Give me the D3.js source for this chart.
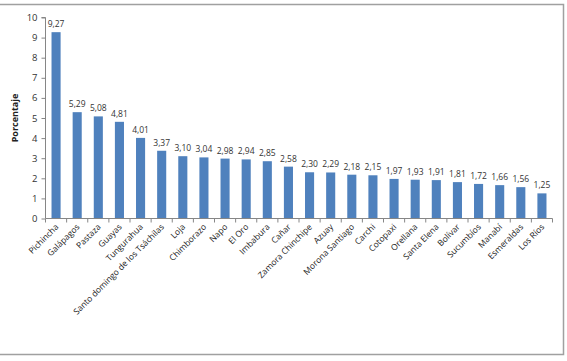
<!DOCTYPE html>
<html><head><meta charset="utf-8">
<script src="https://cdn.jsdelivr.net/npm/d3@7"></script>
<style>body{margin:0;background:#fff;}svg{display:block;}</style>
</head><body>
<svg id="c" width="567" height="361"></svg>
<script>
const categories = ["Pichincha","Galápagos","Pastaza","Guayas","Tungurahua","Santo domingo de los Tsáchilas","Loja","Chimborazo","Napo","El Oro","Imbabura","Cañar","Zamora Chinchipe","Azuay","Morona Santiago","Carchi","Cotopaxi","Orellana","Santa Elena","Bolívar","Sucumbíos","Manabí","Esmeraldas","Los Ríos"];
const values = [9.27,5.29,5.08,4.81,4.01,3.37,3.10,3.04,2.98,2.94,2.85,2.58,2.30,2.29,2.18,2.15,1.97,1.93,1.91,1.81,1.72,1.66,1.56,1.25];
const yTicks = [0,1,2,3,4,5,6,7,8,9,10];
const yTitle = "Porcentaje";

const svg = d3.select("#c");
const font = "Open Sans, Liberation Sans, sans-serif";
// frame
svg.append("path").attr("d","M0,4.5H563.5V354.5H0").attr("fill","none").attr("stroke","#a0a0a0").attr("stroke-width",1.5);

const x0 = 45.5, x1 = 552.5, yb = 218.5, yt = 17.5;
const x = d3.scaleBand().domain(categories).range([x0,x1]).paddingInner(0.57).paddingOuter(0.285);
const y = d3.scaleLinear().domain([0,10]).range([yb,yt]);

svg.selectAll("rect.bar").data(values).join("rect")
  .attr("x",(d,i)=>x(categories[i])).attr("width",x.bandwidth())
  .attr("y",d=>y(d)).attr("height",d=>yb-y(d)).attr("fill","#4f81bd");

// y axis
const ya = svg.append("g").attr("transform",`translate(${x0},0)`)
  .call(d3.axisLeft(y).tickValues(yTicks).tickSize(4).tickFormat(d3.format("d")));
ya.select(".domain").attr("stroke","#868686").attr("d",`M-4,${yt}H0V${yb}`);
ya.selectAll(".tick line").attr("stroke","#868686");
ya.selectAll("text").attr("font-family",font).attr("font-size",9.5).attr("fill","#333").attr("x",-8);

// x axis
const step = x.step();
const xa = svg.append("g");
xa.append("line").attr("x1",x0).attr("x2",x1).attr("y1",yb).attr("y2",yb).attr("stroke","#868686");
xa.selectAll("line.t").data(d3.range(categories.length+1)).join("line")
  .attr("x1",i=>x0+i*step).attr("x2",i=>x0+i*step).attr("y1",yb).attr("y2",yb+4).attr("stroke","#868686");
xa.selectAll("text").data(categories).join("text")
  .attr("transform",d=>`translate(${x(d)+x.bandwidth()/2+3},${yb+9}) rotate(-45)`)
  .attr("text-anchor","end").attr("font-family",font).attr("font-size",8.5).attr("fill","#222")
  .text(d=>d);

// value labels
svg.selectAll("text.v").data(values).join("text").attr("class","v")
  .attr("x",(d,i)=>x(categories[i])+x.bandwidth()/2).attr("y",d=>y(d)-5)
  .attr("text-anchor","middle").attr("font-family",font).attr("font-size",8.5).attr("fill","#333")
  .text(d=>d.toFixed(2).replace(".",","));

// y title
svg.append("text").attr("transform","translate(18,118) rotate(-90)").attr("text-anchor","middle")
  .attr("font-family",font).attr("font-size",9).attr("font-weight","bold").attr("fill","#222").text(yTitle);
</script>
</body></html>
